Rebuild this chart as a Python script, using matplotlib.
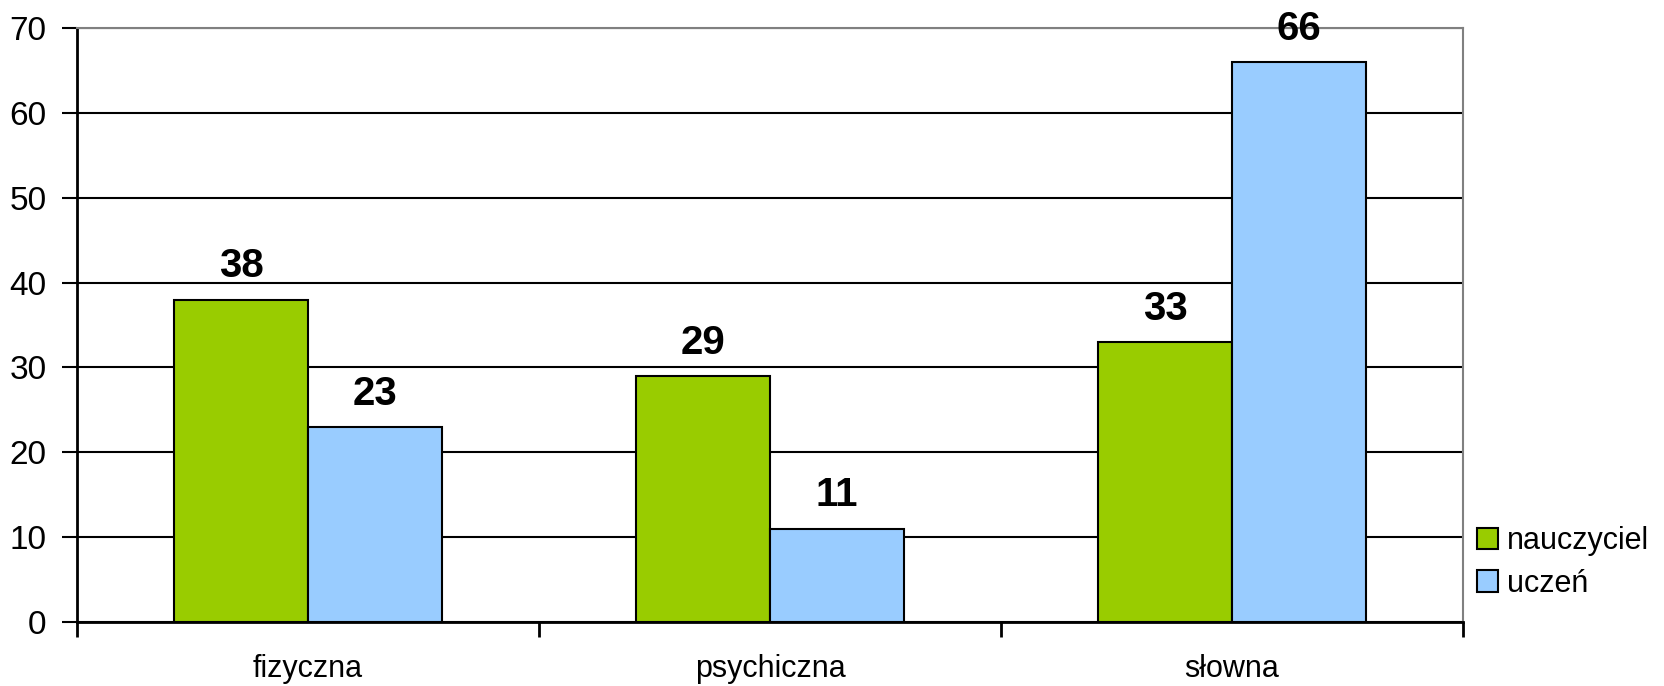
import numpy as np
import matplotlib.pyplot as plt

plt.rcParams['font.family'] = ['Liberation Sans', 'DejaVu Sans']

categories = ['fizyczna', 'psychiczna', 'słowna']
nauczyciel = [38, 29, 33]
uczen = [23, 11, 66]
series_names = ['nauczyciel', 'uczeń']
colors = ['#99CC00', '#99CCFF']

fig = plt.figure(figsize=(16.65, 6.86), dpi=100)
ax = fig.add_axes([0.0462, 0.0933, 0.8325, 0.8659])

x = np.arange(len(categories))
w = 0.29
bars1 = ax.bar(x - w / 2, nauczyciel, w, color=colors[0], edgecolor='black',
               linewidth=1.5, label=series_names[0], zorder=3)
bars2 = ax.bar(x + w / 2, uczen, w, color=colors[1], edgecolor='black',
               linewidth=1.5, label=series_names[1], zorder=3)

for bars in (bars1, bars2):
    for b in bars:
        ax.annotate(str(int(b.get_height())),
                    (b.get_x() + b.get_width() / 2, b.get_height()),
                    xytext=(0, 16), textcoords='offset points',
                    ha='center', va='baseline', fontsize=29,
                    fontweight='bold', zorder=4, clip_on=False)

ax.set_xlim(-0.5, len(categories) - 0.5)
ax.set_ylim(0, 70)
ax.set_yticks(np.arange(0, 71, 10))
ax.yaxis.grid(True, color='black', linewidth=1.5, zorder=0)
ax.set_axisbelow(True)

ax.set_xticks(x)
ax.set_xticklabels(categories, fontsize=22)
ax.tick_params(axis='x', length=0, pad=23)
ax.set_xticks(np.arange(-0.5, len(categories), 1), minor=True)
ax.tick_params(axis='x', which='minor', length=11, width=2, color='black')
ax.tick_params(axis='y', length=11, width=1.5, labelsize=24, pad=11)

for s in ['left', 'bottom']:
    ax.spines[s].set_color('black')
    ax.spines[s].set_linewidth(2)
for s in ['top', 'right']:
    ax.spines[s].set_color('#808080')
    ax.spines[s].set_linewidth(1.5)

ax.legend(loc='center left', bbox_to_anchor=(0.99, 0.1), frameon=False,
          fontsize=22, handlelength=0.7, handleheight=0.7, handletextpad=0.3,
          labelspacing=0.4)

fig.savefig('out.png', dpi=100)
